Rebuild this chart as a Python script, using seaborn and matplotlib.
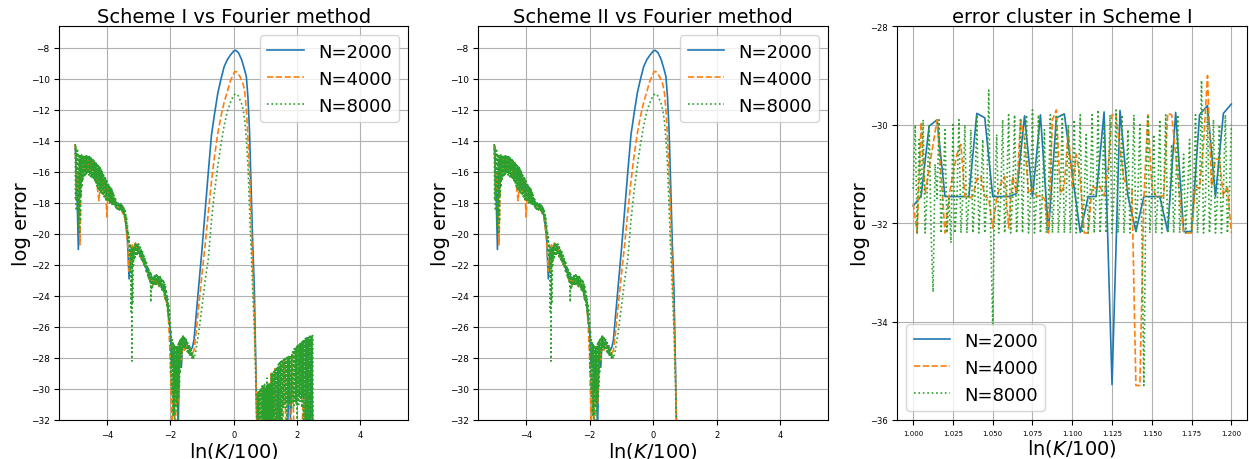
import numpy as np
import matplotlib
matplotlib.use("Agg")
import matplotlib.pyplot as plt
import seaborn as sns

LABELS = ["N=2000", "N=4000", "N=8000"]
COLORS = sns.color_palette("tab10")[:3]
STYLES = ["-", "--", ":"]

# ---- noisy left part (same in scheme I and II) ----
k_left_coarse = np.linspace(-5.0, -1.25, 76)
k_left_fine = np.linspace(-5.0, -1.25, 301)

err_left_2000 = [
    -14.3, -16.8, -21.0, -15.2, -15.6, -15.0, -15.8, -15.0,
    -15.9, -15.0, -16.0, -15.2, -16.3, -15.4, -16.6, -15.7,
    -17.0, -16.0, -17.3, -16.4, -17.5, -16.8, -17.7, -17.1,
    -18.0, -17.8, -18.2, -18.0, -18.3, -18.2, -18.6, -18.7,
    -19.4, -20.4, -22.9, -21.4, -20.8, -21.2, -20.6, -21.0,
    -20.8, -21.4, -21.2, -21.8, -21.7, -22.3, -22.3, -22.9,
    -22.7, -23.2, -22.7, -23.1, -22.8, -23.3, -23.0, -23.5,
    -23.4, -24.2, -24.2, -25.4, -26.2, -28.5, -27.2, -30.2,
    -27.3, -32.5, -27.0, -28.6, -26.6, -27.4, -26.9, -27.3,
    -27.2, -27.5, -27.3, -26.8,
]
err_left_4000 = [
    -14.2, -17.2, -16.0, -20.7, -15.3, -15.1, -15.9, -15.1,
    -15.8, -15.1, -16.1, -15.3, -16.4, -15.5, -17.0, -17.85,
    -16.6, -16.2, -17.4, -16.5, -18.9, -16.9, -17.8, -17.2,
    -18.0, -17.9, -18.2, -18.1, -18.4, -18.3, -18.7, -18.8,
    -19.5, -20.5, -22.4, -21.2, -20.7, -21.3, -20.5, -21.1,
    -20.9, -21.5, -21.3, -21.9, -21.8, -22.4, -22.4, -23.0,
    -22.8, -23.3, -22.8, -23.2, -22.9, -23.4, -23.1, -23.6,
    -23.5, -24.4, -24.4, -25.8, -28.0, -32.5, -29.5, -33.0,
    -30.0, -31.0, -27.2, -28.2, -26.7, -27.5, -27.0, -27.4,
    -27.3, -27.6, -27.7, -27.5,
]
err_left_8000 = [
    -14.2, -17.8, -14.3, -18.5, -14.5, -17.2, -14.6, -19.6, -14.8, -18.8, -15.0, -20.0, -14.9, -19.2, -15.0, -17.5,
    -14.9, -17.0, -14.95, -16.6, -14.9, -16.4, -14.95, -16.3, -14.9, -16.2, -14.95, -16.2, -14.95, -16.1, -14.9, -16.1,
    -14.95, -16.1, -14.95, -16.2, -15.0, -16.2, -15.05, -16.3, -15.1, -16.3, -15.15, -16.4, -15.2, -16.4, -15.25, -16.5,
    -15.3, -16.6, -15.35, -16.7, -15.45, -16.8, -15.5, -16.9, -15.55, -17.0, -15.6, -17.1, -15.65, -17.2, -15.7, -17.3,
    -15.8, -17.3, -15.9, -17.4, -16.0, -17.5, -16.1, -17.55, -16.2, -17.6, -16.3, -17.7, -16.4, -17.75, -16.5, -17.8,
    -16.6, -17.85, -16.7, -17.9, -16.8, -17.95, -16.9, -18.0, -16.95, -18.0, -17.05, -18.05, -17.1, -18.1, -17.2, -18.1,
    -17.3, -18.15, -17.45, -18.2, -17.6, -18.25, -17.7, -18.3, -17.85, -18.35, -17.95, -18.4, -18.0, -18.4, -18.0, -18.45,
    -18.0, -18.5, -18.05, -18.5, -18.1, -18.55, -18.15, -18.6, -18.2, -18.7, -18.3, -18.8, -18.4, -19.0, -18.5, -19.2,
    -18.7, -19.5, -19.0, -19.9, -19.4, -20.3, -19.8, -20.6, -20.2, -21.5, -20.6, -22.5, -20.8, -25.0, -20.9, -28.2,
    -21.0, -24.5, -20.9, -22.0, -20.8, -21.6, -20.7, -21.5, -20.65, -21.4, -20.6, -21.3, -20.6, -21.3, -20.6, -21.3,
    -20.65, -21.35, -20.75, -21.45, -20.85, -21.55, -20.95, -21.65, -21.05, -21.75, -21.15, -21.85, -21.25, -21.95, -21.4, -22.1,
    -21.55, -22.25, -21.7, -22.4, -21.85, -22.55, -22.0, -22.7, -22.15, -22.85, -22.3, -23.0, -22.4, -23.2, -22.5, -24.4,
    -22.6, -23.6, -22.7, -23.4, -22.75, -23.35, -22.75, -23.3, -22.7, -23.3, -22.7, -23.25, -22.65, -23.25, -22.65, -23.25,
    -22.65, -23.3, -22.7, -23.35, -22.7, -23.4, -22.75, -23.45, -22.8, -23.5, -22.85, -23.6, -22.9, -23.7, -23.0, -23.8,
    -23.1, -24.0, -23.25, -24.2, -23.4, -24.4, -23.6, -24.6, -23.9, -25.0, -24.2, -25.4, -24.5, -25.8, -24.9, -26.3,
    -25.6, -28.9, -26.2, -30.0, -26.7, -30.5, -26.9, -31.8, -27.0, -31.6, -27.1, -32.3, -27.2, -31.2, -27.2, -30.8,
    -27.3, -31.4, -27.2, -32.2, -27.1, -30.6, -27.0, -29.8, -26.9, -29.0, -26.8, -28.2, -26.7, -27.7, -26.6, -27.5,
    -26.55, -27.3, -26.55, -27.3, -26.6, -27.35, -26.7, -27.4, -26.8, -27.5, -26.9, -27.6, -27.0, -27.7, -27.2, -27.8,
    -27.3, -27.85, -27.4, -27.9, -27.5, -27.95, -27.6, -28.0, -27.7, -28.05, -27.8, -28.05, -28.0,
]

# ---- the big hump around ln(K/100)=0 ----
k_hump_2000 = [-1.20, -1.10, -1.00, -0.90, -0.80, -0.70, -0.60, -0.50, -0.40,
               -0.30, -0.20, -0.10, 0.00, 0.06, 0.15, 0.25, 0.30, 0.35, 0.40,
               0.45, 0.50, 0.55, 0.60, 0.65, 0.70, 0.74]
err_hump_2000 = [-25.6, -23.3, -21.0, -18.5, -16.0, -13.6, -12.2, -10.9, -10.0,
                 -9.2, -8.75, -8.45, -8.2, -8.15, -8.3, -8.75, -9.1, -9.45, -9.85,
                 -11.2, -13.4, -16.9, -20.6, -23.4, -28.6, -33.5]
k_hump_4000 = [-1.20, -1.10, -1.00, -0.90, -0.80, -0.70, -0.60, -0.50, -0.40,
               -0.30, -0.20, -0.10, 0.03, 0.10, 0.20, 0.30, 0.35, 0.40, 0.45,
               0.50, 0.55, 0.60, 0.65, 0.70, 0.745]
err_hump_4000 = [-26.6, -24.6, -22.6, -20.7, -18.6, -16.6, -14.9, -13.5, -12.4,
                 -11.5, -10.8, -10.1, -9.51, -9.55, -9.85, -10.35, -10.85, -12.0, -13.8,
                 -16.0, -19.0, -22.2, -25.3, -29.0, -33.5]
k_hump_8000 = [-1.20, -1.10, -1.00, -0.90, -0.80, -0.70, -0.60, -0.50, -0.40,
               -0.30, -0.20, -0.10, 0.00, 0.06, 0.15, 0.25, 0.30, 0.35, 0.40,
               0.45, 0.50, 0.55, 0.60, 0.65, 0.70, 0.745]
err_hump_8000 = [-27.6, -26.3, -24.7, -23.0, -21.6, -19.1, -17.2, -15.6, -14.2,
                 -13.0, -12.1, -11.5, -11.05, -10.95, -11.1, -11.6, -12.0, -12.7, -13.9,
                 -15.6, -18.4, -21.0, -23.6, -26.0, -29.8, -34.0]

# ---- error cluster of scheme I, 1.0 <= ln(K/100) <= 1.2 ----
k_clu_2000 = np.linspace(1.0, 1.2, 41)
k_clu_4000 = np.linspace(1.0, 1.2, 81)
k_clu_8000 = np.linspace(1.0, 1.2, 161)

err_clu_2000 = [
    -31.65, -31.45, -30.03, -29.90, -31.46, -31.46, -31.46, -31.46, -29.77, -29.86,
    -31.46, -31.46, -31.46, -31.40, -29.82, -31.46, -29.80, -32.19, -29.86, -29.78,
    -31.00, -32.19, -31.46, -31.46, -29.74, -35.28, -29.71, -31.45, -32.17, -31.46,
    -31.46, -31.46, -32.17, -29.75, -32.17, -32.17, -29.80, -29.61, -31.46, -29.77,
    -29.58,
]
err_clu_4000 = [
    -31.6, -32.2, -29.95, -31.4, -30.9, -30.4, -29.9, -31.0, -32.2, -31.45,
    -31.0, -30.6, -30.4, -31.45, -31.5, -31.45, -31.1, -31.05, -31.45, -31.5,
    -32.1, -31.5, -31.2, -31.05, -32.1, -31.05, -31.4, -29.9, -30.3, -31.4,
    -31.3, -31.45, -31.45, -31.5, -32.2, -29.9, -29.7, -31.4, -31.25, -30.1,
    -31.25, -30.6, -31.1, -32.2, -32.2, -31.25, -31.3, -31.25, -31.45, -30.9,
    -29.8, -29.8, -30.5, -31.1, -31.3, -31.3, -35.3, -35.3, -31.5, -29.8,
    -31.25, -31.45, -31.45, -31.45, -29.77, -29.8, -30.6, -31.45, -32.2, -32.2,
    -32.2, -31.25, -31.3, -30.4, -29.0, -31.25, -30.7, -30.7, -31.45, -31.25,
    -32.2,
]
err_clu_8000 = [
    -31.3, -30.0, -32.2, -30.3, -31.5, -29.9, -32.2, -31.4, -30.0, -32.2,
    -33.4, -30.8, -31.5, -29.9, -32.2, -31.4, -30.1, -32.2, -31.5, -32.4,
    -30.0, -32.2, -31.5, -29.9, -32.2, -31.4, -30.0, -32.2, -31.5, -30.1,
    -32.2, -31.5, -29.8, -32.2, -31.4, -30.3, -32.2, -31.5, -29.3, -32.2,
    -34.1, -31.4, -30.2, -32.2, -31.5, -29.9, -32.2, -31.4, -29.8, -32.2,
    -31.5, -29.8, -32.2, -31.4, -29.9, -32.2, -30.4, -29.8, -32.2, -31.5,
    -29.7, -32.2, -31.5, -29.8, -32.2, -31.4, -30.1, -32.2, -31.5, -29.8,
    -32.2, -31.4, -29.8, -32.2, -31.5, -29.8, -32.2, -31.4, -30.0, -32.2,
    -31.5, -29.9, -32.2, -31.4, -29.8, -32.2, -31.5, -30.2, -32.2, -31.4,
    -29.8, -32.2, -31.5, -29.7, -32.2, -31.4, -30.0, -32.2, -31.5, -29.8,
    -32.2, -31.4, -29.7, -32.2, -31.5, -29.8, -32.2, -31.4, -30.1, -32.2,
    -31.5, -29.8, -32.2, -31.4, -30.0, -32.2, -35.3, -31.5, -29.8, -32.2,
    -31.4, -30.2, -32.2, -31.5, -29.9, -32.2, -31.4, -29.8, -32.2, -31.5,
    -30.4, -32.2, -31.4, -29.8, -32.2, -31.5, -30.6, -32.2, -31.4, -30.3,
    -32.2, -31.5, -29.8, -32.2, -31.4, -29.1, -32.2, -31.5, -29.7, -32.2,
    -31.4, -29.9, -32.2, -31.5, -30.0, -32.2, -31.4, -29.8, -32.2, -31.5,
    -30.0,
]

# ---- rest of the scheme I tail (around the cluster) ----
# N=2000 / N=4000 sit mostly under the N=8000 band, only a few spikes show
k_tailA_coarse = np.linspace(0.75, 0.95, 5)
k_tailA_fine = np.linspace(0.75, 0.9875, 20)
k_tailC_coarse = np.linspace(1.25, 2.5, 26)
k_tailC_fine = np.linspace(1.2125, 2.5, 104)

err_tailA_2000 = [-30.4, -33.0, -33.0, -33.0, -33.0]
err_tailA_4000 = [-30.2, -33.0, -33.0, -29.9, -33.0]
err_tailA_8000 = [
    -30.3, -32.6, -30.2, -32.5, -30.1, -32.6, -30.0, -32.4, -29.95, -32.5,
    -29.9, -32.6, -29.8, -32.4, -29.8, -32.5, -29.7, -32.6, -29.7, -32.4,
]

err_tailC_2000 = [
    -33.0, -33.0, -33.0, -28.6, -33.0, -33.0, -33.0, -33.0, -33.0, -33.0,
    -28.0, -33.0, -33.0, -33.0, -33.0, -33.0, -33.0, -33.0, -33.0, -33.0,
    -33.0, -26.7, -33.0, -33.0, -26.65, -33.0,
]
err_tailC_4000 = [
    -33.0, -28.7, -33.0, -33.0, -33.0, -33.0, -33.0, -28.1, -33.0, -33.0,
    -33.0, -33.0, -27.7, -33.0, -33.0, -33.0, -33.0, -33.0, -33.0, -30.0,
    -33.0, -33.0, -33.0, -33.0, -33.0, -33.0,
]
err_tailC_8000 = [
    -29.0, -32.5, -28.95, -32.4, -28.9, -32.6, -28.85, -32.5, -28.75, -32.4, -28.7, -32.6, -28.6, -32.5, -28.5, -32.4,
    -28.4, -32.6, -28.35, -32.5, -28.3, -32.4, -28.2, -32.6, -28.2, -32.5, -28.15, -31.3, -28.1, -31.0, -28.1, -30.9,
    -28.05, -31.2, -28.0, -30.8, -28.0, -32.4, -27.95, -30.9, -27.95, -31.1, -27.9, -30.7, -27.9, -31.0, -27.85, -30.8,
    -27.8, -31.3, -27.7, -30.6, -27.6, -30.9, -27.5, -31.2, -27.4, -30.7, -27.35, -30.9, -27.3, -31.0, -27.2, -32.4,
    -27.15, -30.7, -27.1, -31.0, -27.1, -30.5, -27.05, -30.8, -27.0, -30.6, -26.95, -31.2, -26.9, -30.5, -26.85, -32.4,
    -26.8, -30.4, -26.8, -32.4, -26.75, -32.5, -26.7, -32.4, -26.7, -32.6, -26.65, -32.5, -26.65, -32.4, -26.6, -32.5,
    -26.6, -32.4, -26.6, -32.5, -26.55, -32.6, -26.55, -32.5,
]

left_k = [k_left_coarse, k_left_coarse, k_left_fine]
left_err = [err_left_2000, err_left_4000, err_left_8000]
hump_k = [k_hump_2000, k_hump_4000, k_hump_8000]
hump_err = [err_hump_2000, err_hump_4000, err_hump_8000]
clu_k = [k_clu_2000, k_clu_4000, k_clu_8000]
clu_err = [err_clu_2000, err_clu_4000, err_clu_8000]
tailA_k = [k_tailA_coarse, k_tailA_coarse, k_tailA_fine]
tailA_err = [err_tailA_2000, err_tailA_4000, err_tailA_8000]
tailC_k = [k_tailC_coarse, k_tailC_coarse, k_tailC_fine]
tailC_err = [err_tailC_2000, err_tailC_4000, err_tailC_8000]


def draw(ax, x, y, i):
    sns.lineplot(x=x, y=y, ax=ax, color=COLORS[i], linestyle=STYLES[i],
                 linewidth=1.2, label=LABELS[i], estimator=None,
                 errorbar=None, sort=False)


fig = plt.figure(figsize=(12.49, 4.6), dpi=100)
ax1 = fig.add_axes([0.0475, 0.0848, 0.2792, 0.8559])
ax2 = fig.add_axes([0.3830, 0.0848, 0.2800, 0.8559])
ax3 = fig.add_axes([0.7184, 0.0848, 0.2802, 0.8559])

for i in range(3):
    # scheme I: noisy left part, hump, and the error cluster tail
    x1 = np.concatenate([left_k[i], hump_k[i], tailA_k[i], clu_k[i], tailC_k[i]])
    y1 = np.concatenate([left_err[i], hump_err[i], tailA_err[i], clu_err[i], tailC_err[i]])
    draw(ax1, x1, y1, i)
    # scheme II: no tail
    x2 = np.concatenate([left_k[i], hump_k[i]])
    y2 = np.concatenate([left_err[i], hump_err[i]])
    draw(ax2, x2, y2, i)
    draw(ax3, clu_k[i], clu_err[i], i)

titles = ["Scheme I vs Fourier method", "Scheme II vs Fourier method"]
for ax, t in zip([ax1, ax2], titles):
    ax.set_xlim(-5.5, 5.5)
    ax.set_ylim(-32, -6.6)
    ax.set_xticks([-4, -2, 0, 2, 4])
    ax.set_yticks(np.arange(-32, -7, 2))
    ax.tick_params(axis="x", labelsize=6)
    ax.tick_params(axis="y", labelsize=6.5)
    ax.set_title(t, fontsize=14, pad=3)
    ax.legend(loc="upper right", fontsize=13)

ax3.set_xlim(0.99, 1.21)
ax3.set_ylim(-36, -28)
ax3.set_xticks(np.linspace(1.0, 1.2, 9))
ax3.set_xticklabels([f"{v:.3f}" for v in np.linspace(1.0, 1.2, 9)])
ax3.set_yticks([-36, -34, -32, -30, -28])
ax3.tick_params(axis="x", labelsize=5)
ax3.tick_params(axis="y", labelsize=6)
ax3.set_title("error cluster in Scheme I", fontsize=14, pad=3)
ax3.legend(loc="lower left", fontsize=13)

for ax in [ax1, ax2, ax3]:
    ax.grid(True)
    ax.set_xlabel(r"ln($K$/100)", fontsize=14, labelpad=1)
    ax.set_ylabel("log error", fontsize=14, labelpad=0)

fig.savefig("out.png", dpi=100)
